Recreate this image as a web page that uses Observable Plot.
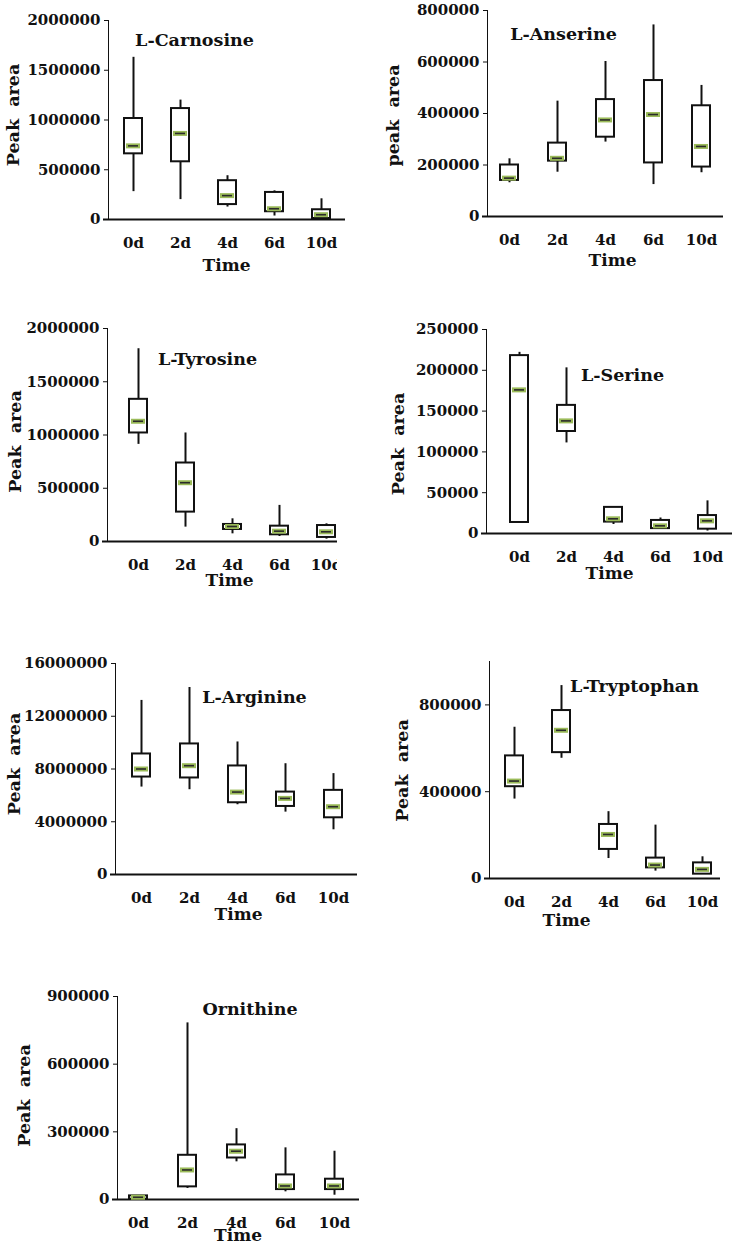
<!DOCTYPE html>
<html><head><meta charset="utf-8">
<script src="https://cdn.jsdelivr.net/npm/d3@7"></script>
<script src="https://cdn.jsdelivr.net/npm/@observablehq/plot@0.6"></script>
<style>
html,body{margin:0;padding:0;background:#fff;}
#chart{position:relative;width:735px;height:1249px;overflow:hidden;background:#fff;}
#chart svg text{font-family:"DejaVu Serif",serif;font-weight:bold;white-space:pre;}
</style></head><body><div id="chart"></div>
<script>
// Categories
const times = ["0d", "2d", "4d", "6d", "10d"];

// Five-number summaries per time point: [low whisker, Q1, median, Q3, high whisker]
const carnosine = [
  [280000, 660000, 740000, 1015000, 1630000],
  [200000, 580000, 865000, 1115000, 1200000],
  [125000, 150000, 240000, 390000, 440000],
  [35000, 78000, 108000, 272000, 288000],
  [0, 10000, 48000, 98000, 208000]
];
const anserine = [
  [131000, 140000, 149000, 200000, 224000],
  [172000, 215000, 226000, 285000, 448000],
  [289000, 308000, 375000, 454000, 602000],
  [124000, 208000, 396000, 528000, 744000],
  [170000, 192000, 272000, 430000, 509000]
];
const tyrosine = [
  [912000, 1019000, 1129000, 1335000, 1810000],
  [135000, 276000, 552000, 737000, 1019000],
  [72000, 113000, 141000, 160000, 213000],
  [47000, 63000, 97000, 144000, 339000],
  [22000, 38000, 91000, 150000, 166000]
];
const serine = [
  [13500, 13500, 176000, 218000, 222000],
  [111000, 125000, 138000, 157000, 203000],
  [11000, 14000, 18000, 32000, 32000],
  [6000, 6000, 9400, 16000, 19000],
  [3000, 5300, 15500, 22000, 40000]
];
const arginine = [
  [6630000, 7390000, 8000000, 9140000, 13200000],
  [6430000, 7320000, 8250000, 9900000, 14180000],
  [5290000, 5440000, 6250000, 8230000, 10050000],
  [4730000, 5160000, 5770000, 6250000, 8400000],
  [3390000, 4300000, 5140000, 6380000, 7650000]
];
const tryptophan = [
  [366000, 423000, 449000, 565000, 697000],
  [554000, 580000, 683000, 774000, 889000],
  [92000, 134000, 203000, 249000, 308000],
  [34000, 49000, 62000, 94000, 246000],
  [20000, 20000, 42000, 72000, 100000]
];
const ornithine = [
  [0, 1500, 10000, 16000, 17700],
  [49000, 56000, 131000, 196000, 783000],
  [167000, 184000, 214000, 242000, 314000],
  [34000, 44000, 60000, 109000, 229000],
  [19000, 44000, 60000, 90000, 214000]
];

// Y tick labels
const carnosineTicks = [0, 500000, 1000000, 1500000, 2000000];
const anserineTicks = [0, 200000, 400000, 600000, 800000];
const tyrosineTicks = [0, 500000, 1000000, 1500000, 2000000];
const serineTicks = [0, 50000, 100000, 150000, 200000, 250000];
const arginineTicks = [0, 4000000, 8000000, 12000000, 16000000];
const tryptophanTicks = [0, 400000, 800000];
const ornithineTicks = [0, 300000, 600000, 900000];

// Domain maxima
const yMax = [2000000, 800000, 2000000, 250000, 16000000, 1000000, 900000];

const titles = ["L-Carnosine", "L-Anserine", "L-Tyrosine", "L-Serine", "L-Arginine", "L-Tryptophan", "Ornithine"];
const yLabels = ["Peak  area", "peak  area", "Peak  area", "Peak  area", "Peak  area", "Peak  area", "Peak  area"];
const xLabel = "Time";

const series = [carnosine, anserine, tyrosine, serine, arginine, tryptophan, ornithine];
const tickSets = [carnosineTicks, anserineTicks, tyrosineTicks, serineTicks, arginineTicks, tryptophanTicks, ornithineTicks];

// Layout (page pixel positions) for each panel
const layout = [
  {left:0,   top:0,   width:365, height:285, axisX:108, yTop:20,  y0:219,  xEnd:345, c0:132, c4:321, tX:194,   tY:33,    lX:12.5,  lY:114.5, mX:226,   mY:270},
  {left:370, top:0,   width:365, height:285, axisX:487, yTop:10,  y0:216,  xEnd:723, c0:508, c4:701, tX:563,   tY:27,    lX:392.5, lY:115,   mX:612,   mY:265},
  {left:0,   top:290, width:337, height:300, axisX:107, yTop:328, y0:541,  xEnd:338, c0:136, c4:327, tX:207,   tY:352,   lX:14.5,  lY:441,   mX:229,   mY:585, clip:true},
  {left:370, top:290, width:365, height:300, axisX:486, yTop:329, y0:533,  xEnd:732, c0:517, c4:708, tX:622,   tY:368,   lX:397.5, lY:443.5, mX:609,   mY:578},
  {left:0,   top:590, width:365, height:330, axisX:115, yTop:663, y0:874,  xEnd:357, c0:141, c4:333, tX:254,   tY:690.5, lX:13.5,  lY:763.5, mX:238,   mY:919},
  {left:370, top:590, width:365, height:330, axisX:489, yTop:661, y0:878,  xEnd:720, c0:513, c4:702, tX:634,   tY:679,   lX:401.5, lY:770,   mX:566,   mY:925},
  {left:0,   top:920, width:365, height:329, axisX:117, yTop:996, y0:1199, xEnd:359, c0:137, c4:335, tX:249.5, tY:1002,  lX:23.5,  lY:1095,  mX:237.5, mY:1240}
];

const INK = "#111";
const GREEN = "#9bbb59";
const chart = document.getElementById("chart");

series.forEach((vals, k) => {
  const L = layout[k];
  const rows = times.map((t, i) => ({time: t, low: vals[i][0], q1: vals[i][1], med: vals[i][2], q3: vals[i][3], high: vals[i][4]}));
  const mL = L.axisX - L.left, mT = L.yTop - L.top, mB = L.top + L.height - L.y0, mR = Math.max(0, L.left + L.width - L.xEnd);
  const s = (L.c4 - L.c0) / 4;
  const fcx = (L.axisX + Math.min(L.xEnd, L.left + L.width)) / 2;
  const fcy = (L.yTop + L.y0) / 2;
  const svg = Plot.plot({
    width: L.width, height: L.height,
    marginLeft: mL, marginTop: mT, marginBottom: mB, marginRight: mR,
    style: {position: "absolute", left: L.left + "px", top: L.top + "px", overflow: L.clip ? "hidden" : "visible",
            fontFamily: "'DejaVu Serif', serif", fontWeight: "bold", fontSize: "15px", color: INK, background: "transparent"},
    x: {type: "band", domain: times, range: [L.c0 - s / 2 - L.left, L.c4 + s / 2 - L.left],
        paddingInner: 0.625, paddingOuter: 0.3125, tickSize: 0, tickPadding: 18, label: null},
    y: {domain: [0, yMax[k]], ticks: tickSets[k], tickFormat: d => String(d), tickSize: 4, tickPadding: 4, label: null, line: true},
    marks: [
      Plot.ruleY([0], {stroke: INK, strokeWidth: 2, insetLeft: -5}),
      Plot.ruleX(rows, {x: "time", y1: "low", y2: "q1", stroke: INK, strokeWidth: 2}),
      Plot.ruleX(rows, {x: "time", y1: "q3", y2: "high", stroke: INK, strokeWidth: 2}),
      Plot.barY(rows, {x: "time", y1: "q1", y2: "q3", fill: "white", stroke: INK, strokeWidth: 2}),
      Plot.tickY(rows, {x: "time", y: "med", stroke: GREEN, strokeWidth: 5, inset: 2}),
      Plot.tickY(rows, {x: "time", y: "med", stroke: "#2a2a2a", strokeWidth: 1.6, inset: 4}),
      Plot.text([titles[k]], {text: d => d, frameAnchor: "top", dx: L.tX - fcx, dy: L.tY - L.yTop, fontSize: 17.5, fill: INK}),
      Plot.text([yLabels[k]], {text: d => d, frameAnchor: "left", textAnchor: "middle", rotate: -90, dx: L.lX - L.axisX, dy: L.lY - fcy, fontSize: 17.5, fill: INK}),
      Plot.text([xLabel], {text: d => d, frameAnchor: "bottom", dx: L.mX - fcx, dy: L.mY - L.y0, fontSize: 17, fill: INK})
    ]
  });
  chart.appendChild(svg);
});
</script></body></html>
